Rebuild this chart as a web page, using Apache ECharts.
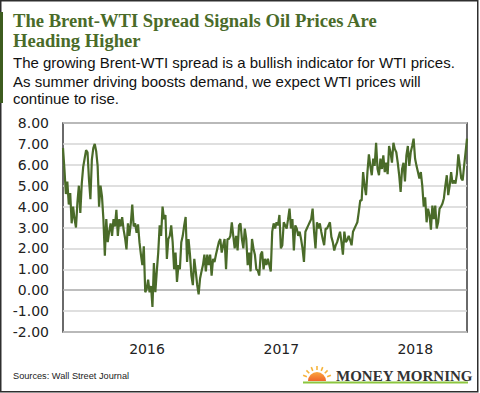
<!DOCTYPE html>
<html><head><meta charset="utf-8">
<script src="https://cdn.jsdelivr.net/npm/echarts@6/dist/echarts.min.js"></script>
<style>html,body{margin:0;padding:0;background:#fff}#c{width:480px;height:393px}</style>
</head><body><div id="c"></div>
<script>
// Brent-WTI spread, USD per barrel
const startDate = '2015-05-17';
const endDate = '2018-05-22';
const yearLabels = [2016, 2017, 2018];
const yMin = -2, yMax = 8, yStep = 1;

// mid-2015 .. early 2016
const spreadA = [
  6.8, 5.78, 4.6, 5.2, 4.1, 4.65, 3.2, 4.0, 3.4, 3.0,
  4.2, 5.0, 3.7, 5.1, 5.9, 6.3, 6.7, 6.6, 5.3, 4.35,
  6.25, 6.8, 7.0, 6.65, 5.95, 4.0, 5.0, 4.5, 3.4, 1.65,
  3.4, 2.3, 2.8, 3.2, 2.6, 3.4, 3.05, 3.85, 2.6, 3.4,
  3.05, 3.5, 2.9, 2.5, 1.95, 3.2, 2.6, 3.2, 4.1, 3.05,
  3.2, 2.75, 3.15, 2.3, 1.7, 1.2, 2.1, -0.1, 0.05, 0.5,
  -0.1, 0.2, -0.8, 1.3, -0.1, 0.9, 1.8, 3.1
];
// early 2016 .. late 2017
const spreadB = [
  2.6, 4.0, 3.4, 3.6, 1.5, 2.45, 2.6, 3.1, 2.3, 1.0,
  1.8, 0.4, 1.2, 1.0, 2.3, 2.6, 3.1, 3.5, 1.35, 2.45,
  1.7, 0.7, 0.24, 1.5, 0.9, 0.25, -0.2, 0.56, 0.9, 1.2,
  1.7, 0.9, 1.7, 1.2, 1.7, 0.7, 1.5, 1.35, 1.7, 2.0,
  2.3, 2.45, 1.8, 2.15, 2.45, 1.0, 2.45, 2.45, 2.6, 3.25,
  2.6, 2.0, 2.6, 1.9, 3.1, 3.2, 2.45, 2.0, 2.95, 2.45,
  1.2, 1.8, 0.9, 2.45, 2.0, 1.7, 1.0, 0.95, 0.7, 1.7,
  1.85, 1.0, 1.5, 1.2, 1.5, 1.2, 0.9, 2.8, 3.2, 2.95,
  3.25, 3.1, 3.6, 2.0, 2.15, 3.25, 3.1, 2.95, 3.4, 3.9,
  2.95, 3.4, 1.9, 3.1, 2.95, 2.6, 2.8, 2.45, 2.0, 1.35,
  2.8, 2.95, 3.1, 3.25, 3.4, 3.9, 2.8, 2.0, 3.25, 2.95, 3.2
];
// mid-2017 .. mid-2018
const spreadC = [
  2.8, 2.45, 2.15, 2.95, 2.95, 3.1, 3.25, 2.55, 2.3, 1.9,
  2.15, 2.3, 2.55, 2.8, 2.3, 1.7, 2.8, 2.3, 2.4, 2.6,
  2.4, 2.15, 2.8, 2.95, 3.1, 3.25, 3.75, 4.3, 4.3, 5.65,
  5.0, 4.55, 5.65, 6.5, 5.95, 5.5, 6.3, 5.95, 7.05, 5.8,
  5.5, 6.3, 5.8, 6.45, 5.65, 6.1, 5.55, 6.9, 6.6, 6.1,
  7.05, 6.75, 6.6, 6.1, 5.5, 4.7, 5.8, 6.1, 5.2, 6.45,
  6.9, 5.95, 6.6, 6.9, 7.25, 6.3, 5.95, 5.65, 5.35, 5.65,
  5.0, 4.0, 4.45, 3.25, 3.9, 3.6, 2.9, 4.05, 3.4, 4.05,
  2.95, 3.25, 3.9, 4.0, 4.15, 4.4, 5.0, 5.5, 4.55, 5.0,
  5.65, 5.1, 5.25, 5.1, 5.55, 6.5, 5.95, 5.35, 5.25, 5.95,
  6.6, 7.25
];

const spread = spreadA.concat(spreadB, spreadC);
const t0 = Date.parse(startDate), t1 = Date.parse(endDate);
const seriesData = spread.map((v, i) => [t0 + (t1 - t0) * i / (spread.length - 1), v]);
const yearTickValues = yearLabels.map(y => Date.UTC(y, 0, 1));

const green = '#4a6b29';
const gridColors = [];
for (let v = yMin; v <= yMax; v += yStep) gridColors.push(v === 0 ? '#a8a8a8' : '#d4d4d4');

// logo sun rays (decoration)
const rays = [];
for (let k = 1; k <= 7; k++) {
  const a = Math.PI + k * Math.PI / 8;
  rays.push({
    type: 'line', silent: true,
    shape: { x1: 317 + Math.cos(a) * 11, y1: 381 + Math.sin(a) * 11, x2: 317 + Math.cos(a) * 15, y2: 381 + Math.sin(a) * 15 },
    style: { stroke: '#f6b43c', lineWidth: 1.6 }
  });
}

const chart = echarts.init(document.getElementById('c'), null, { renderer: 'svg', width: 480, height: 393 });
chart.setOption({
  animation: false,
  backgroundColor: '#ffffff',
  grid: { left: 63, right: 13, top: 123, bottom: 61, show: true, borderColor: '#3a3a3a', borderWidth: 1.5, backgroundColor: 'transparent' },
  xAxis: {
    type: 'value', min: t0, max: t1,
    axisLine: { show: false }, axisTick: { show: false }, splitLine: { show: false },
    axisLabel: {
      customValues: yearTickValues,
      formatter: v => String(new Date(v).getUTCFullYear()),
      fontFamily: 'DejaVu Sans', fontSize: 14, color: '#222', margin: 10
    }
  },
  yAxis: {
    type: 'value', min: yMin, max: yMax, interval: yStep,
    axisLine: { show: false }, axisTick: { show: false },
    splitLine: { lineStyle: { color: gridColors, width: 1.5 } },
    axisLabel: { formatter: v => v.toFixed(2), fontFamily: 'DejaVu Sans', fontSize: 14, color: '#222', margin: 14 }
  },
  series: [{
    type: 'line', data: seriesData, showSymbol: false, smooth: false,
    lineStyle: { color: green, width: 2.2 }, z: 3
  }],
  graphic: [
    { type: 'rect', silent: true, shape: { x: 0.75, y: 0.75, width: 477, height: 391 }, style: { fill: 'none', stroke: '#2e2e2e', lineWidth: 1.5 } },
    { type: 'rect', silent: true, shape: { x: 0, y: 12, width: 3, height: 91 }, style: { fill: '#3d5c1f' } },
    { type: 'text', x: 13, y: 20, style: { text: 'The Brent-WTI Spread Signals Oil Prices Are', font: 'bold 18.6px "Liberation Serif"', fill: green, verticalAlign: 'middle' } },
    { type: 'text', x: 13, y: 40, style: { text: 'Heading Higher', font: 'bold 18.6px "Liberation Serif"', fill: green, verticalAlign: 'middle' } },
    { type: 'text', x: 13, y: 62, style: { text: 'The growing Brent-WTI spread is a bullish indicator for WTI prices.', font: '15px "Liberation Sans"', fill: '#111', verticalAlign: 'middle' } },
    { type: 'text', x: 13, y: 81, style: { text: 'As summer driving boosts demand, we expect WTI prices will', font: '15px "Liberation Sans"', fill: '#111', verticalAlign: 'middle' } },
    { type: 'text', x: 13, y: 98, style: { text: 'continue to rise.', font: '15px "Liberation Sans"', fill: '#111', verticalAlign: 'middle' } },
    { type: 'text', x: 13, y: 376, style: { text: 'Sources: Wall Street Journal', font: '9.2px "Liberation Sans"', fill: '#222', verticalAlign: 'middle' } },
    { type: 'line', silent: true, shape: { x1: 303, y1: 382.5, x2: 468, y2: 382.5 }, style: { stroke: '#8cc63f', lineWidth: 2 } },
    { type: 'sector', silent: true, shape: { cx: 317, cy: 381, r0: 0, r: 9, startAngle: Math.PI, endAngle: 2 * Math.PI },
      style: { fill: new echarts.graphic.LinearGradient(0, 0, 0, 1, [{ offset: 0, color: '#f9a63f' }, { offset: 1, color: '#f0652a' }]) } },
    ...rays,
    { type: 'text', x: 336, y: 376, style: { text: 'MONEY MORNING', font: 'bold 15px "Liberation Serif"', fill: '#333', verticalAlign: 'middle' } }
  ]
});
</script></body></html>
